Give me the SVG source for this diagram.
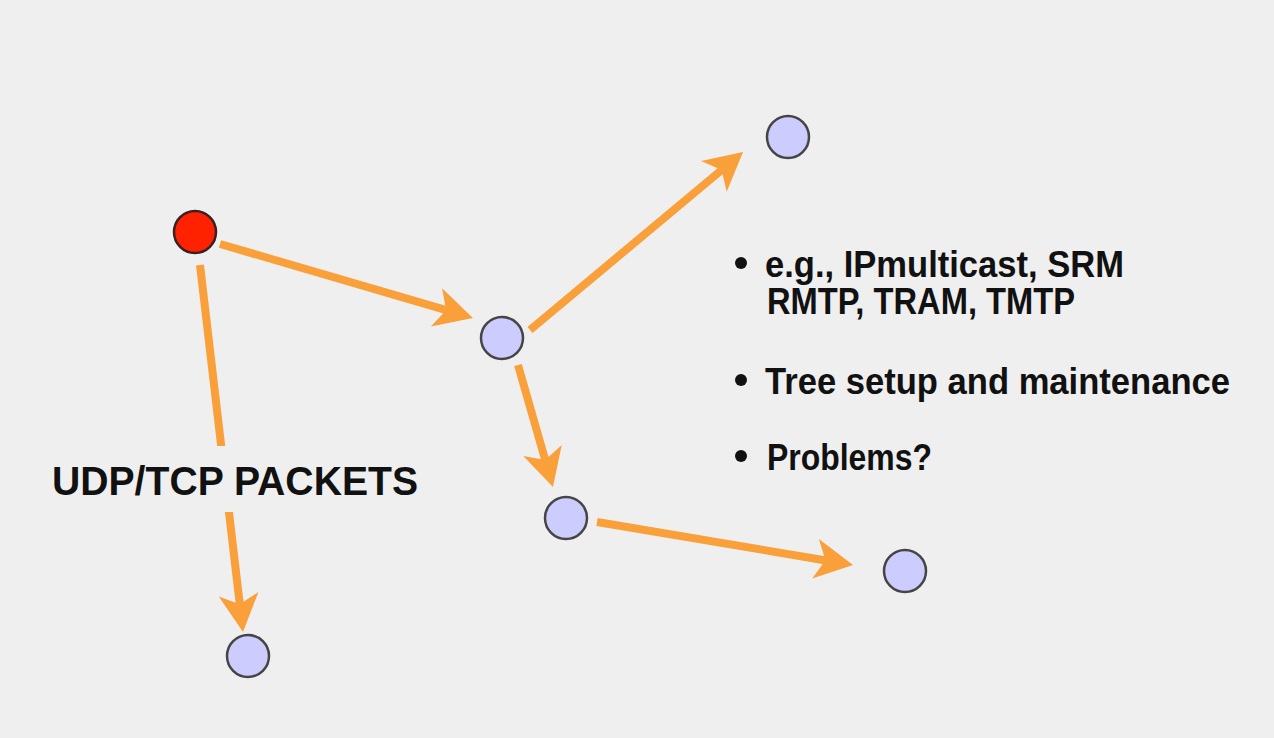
<svg xmlns="http://www.w3.org/2000/svg" width="1274" height="738" viewBox="0 0 1274 738">
<style>
.node{fill:#ccccff;stroke:#454545;stroke-width:2.5}
.src{fill:#ff2200;stroke:#3a2020;stroke-width:2.5}
.edge{stroke:#f9a03b;stroke-width:8;fill:none}
.bul{font-family:"Liberation Sans",Arial,sans-serif;font-weight:bold;font-size:37px;fill:#111}
.lbl{font-family:"Liberation Sans",Arial,sans-serif;font-weight:bold;font-size:41px;fill:#111}
</style>
<defs>
<marker id="ah" markerUnits="userSpaceOnUse" viewBox="-40 -22 44 44" markerWidth="44" markerHeight="44" refX="-26" refY="0" orient="auto">
<path d="M0,0 L-38,-20 L-28,0 L-38,20 z" fill="#f9a03b"/>
</marker>
</defs>
<rect width="1274" height="738" fill="#efefef"/>
<g id="connectors">
<line class="edge" x1="220" y1="244" x2="448" y2="310.7" marker-end="url(#ah)"/>
<line class="edge" x1="530" y1="330" x2="723.1" y2="168.7" marker-end="url(#ah)"/>
<line class="edge" x1="518" y1="365" x2="545.8" y2="462" marker-end="url(#ah)"/>
<line class="edge" x1="597" y1="522" x2="827.4" y2="560.7" marker-end="url(#ah)"/>
<line class="edge" x1="200" y1="265" x2="240" y2="606.2" marker-end="url(#ah)"/>
</g>
<g id="label-packets">
<rect x="45" y="446" width="385" height="66" fill="#efefef"/>
<text class="lbl" x="52" y="495" textLength="366" lengthAdjust="spacingAndGlyphs">UDP/TCP PACKETS</text>
</g>
<g id="node-source"><circle class="src" cx="195" cy="232" r="21"/></g>
<g id="node-1"><circle class="node" cx="502" cy="338" r="21"/></g>
<g id="node-2"><circle class="node" cx="788" cy="137" r="21"/></g>
<g id="node-3"><circle class="node" cx="566" cy="518" r="21"/></g>
<g id="node-4"><circle class="node" cx="905" cy="571" r="21"/></g>
<g id="node-5"><circle class="node" cx="248" cy="656" r="21"/></g>
<g id="bullets">
<circle cx="741" cy="263" r="6" fill="#111"/>
<text class="bul" x="765" y="277" textLength="359" lengthAdjust="spacingAndGlyphs">e.g., IPmulticast, SRM</text>
<text class="bul" x="767" y="314" textLength="308" lengthAdjust="spacingAndGlyphs">RMTP, TRAM, TMTP</text>
<circle cx="741" cy="380" r="6" fill="#111"/>
<text class="bul" x="765" y="394" textLength="465" lengthAdjust="spacingAndGlyphs">Tree setup and maintenance</text>
<circle cx="741" cy="456" r="6" fill="#111"/>
<text class="bul" x="767" y="470" textLength="165" lengthAdjust="spacingAndGlyphs">Problems?</text>
</g>
</svg>
